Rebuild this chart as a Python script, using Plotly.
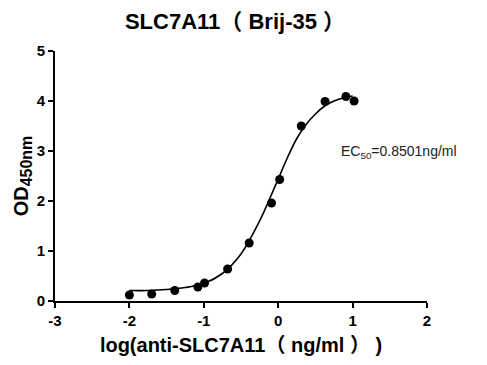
import plotly.graph_objects as go

# measured points
log_conc = [-2.0, -1.70, -1.39, -1.08, -0.99, -0.68, -0.39, -0.09, 0.02, 0.31, 0.63, 0.91, 1.02]
od450 = [0.12, 0.14, 0.21, 0.28, 0.36, 0.64, 1.16, 1.96, 2.43, 3.50, 3.99, 4.09, 4.00]

# fitted curve
fit_x = [-2.0, -1.75, -1.5, -1.25, -1.0, -0.75, -0.5, -0.25, -0.125, 0.0, 0.125, 0.25, 0.375, 0.5, 0.625, 0.75, 0.875, 1.0]
fit_y = [0.21, 0.21, 0.23, 0.27, 0.35, 0.55, 0.94, 1.60, 2.01, 2.44, 2.87, 3.25, 3.53, 3.74, 3.90, 4.00, 4.06, 4.10]

x_ticks = [-3, -2, -1, 0, 1, 2]
y_ticks = [0, 1, 2, 3, 4, 5]

font_main = "Arial, 'Liberation Sans', 'Noto Sans CJK SC', sans-serif"
CJK = "<span style=\"font-family:'Noto Sans CJK SC'\">{}</span>"

W, H = 487, 365
L, T, PW, PH = 44, 43, 375, 250

title_text = "<b>SLC7A11" + CJK.format("（") + " Brij-35 " + CJK.format("）") + "</b>"
xtitle_text = "<b>log(anti-SLC7A11" + CJK.format("（") + " ng/ml " + CJK.format("）") + " )</b>"
ytitle_text = "<b>OD<sub><span style=\"font-size:16px\">450nm</span></sub></b>"

fig = go.Figure()
fig.add_trace(go.Scatter(x=fit_x, y=fit_y, mode="lines",
                         line=dict(color="black", width=1.6, shape="spline"),
                         hoverinfo="skip", showlegend=False, cliponaxis=False))
fig.add_trace(go.Scatter(x=log_conc, y=od450, mode="markers",
                         marker=dict(color="black", size=9),
                         showlegend=False, cliponaxis=False))

fig.update_layout(
    width=W, height=H,
    margin=dict(l=L, r=W - L - PW, t=T, b=H - T - PH),
    paper_bgcolor="white", plot_bgcolor="white",
    font=dict(family=font_main, color="black"),
    title=dict(text=title_text, x=(235 - 8) / W, xanchor="center",
               yref="container", y=1 - 13 / H, yanchor="middle",
               font=dict(size=22, family=font_main)),
    xaxis=dict(range=[-3, 2], tickvals=x_ticks, ticktext=[f"<b>{v}</b>" for v in x_ticks],
               showline=True, linecolor="black", linewidth=2, ticks="outside",
               ticklen=5, tickwidth=2, tickcolor="black", showgrid=False, zeroline=False,
               tickfont=dict(size=15),
               title=dict(text=xtitle_text, font=dict(size=20), standoff=9)),
    yaxis=dict(range=[0, 5], tickvals=y_ticks, ticktext=[f"<b>{v}</b>" for v in y_ticks],
               showline=True, linecolor="black", linewidth=2, ticks="outside",
               ticklen=5, tickwidth=2, tickcolor="black", showgrid=False, zeroline=False,
               tickfont=dict(size=15),
               title=dict(text=ytitle_text, font=dict(size=20), standoff=3)),
    annotations=[dict(text="EC<sub>50</sub>=0.8501ng/ml", x=(338 - 52) / PW, y=2.98,
                      xref="paper", yref="y",
                      showarrow=False, xanchor="left", yanchor="middle",
                      font=dict(size=14, color="#222222"))],
)

fig.write_html("out.html")
